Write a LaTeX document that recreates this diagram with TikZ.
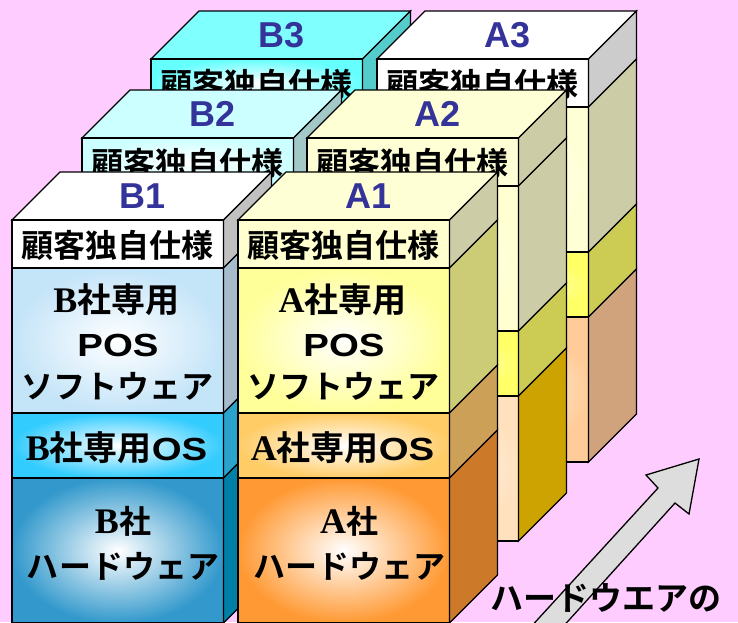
\documentclass[tikz,border=0pt]{standalone}
\usepackage{fontspec}
\newfontfamily\jpb{Noto Sans CJK JP}[UprightFont=* Bold]
\newfontfamily\serifb{Liberation Serif}[UprightFont=* Bold]
\newfontfamily\labf{Liberation Sans}[UprightFont=* Bold]
\newcommand\serifletter[1]{{\serifb\fontsize{36}{36}\selectfont #1}}
\newcommand\wideletters[1]{{\labf\fontsize{32}{32}\selectfont\scalebox{1.2}[1]{#1}}}
\definecolor{bgpink}{HTML}{FFCCFF}
\definecolor{labblue}{HTML}{333399}
\definecolor{cBfb}{HTML}{C4E4F8}
\definecolor{cBfc}{HTML}{33CCFF}
\definecolor{cBfd}{HTML}{3399CC}
\definecolor{cBsa}{HTML}{C0C0C0}
\definecolor{cBsb}{HTML}{A6BCCB}
\definecolor{cBsc}{HTML}{2AA3CC}
\definecolor{cBsd}{HTML}{0080A6}
\definecolor{cBtwo}{HTML}{CCFFFF}
\definecolor{cBtwofb}{HTML}{CCF0FF}
\definecolor{cBtwofc}{HTML}{66DDFF}
\definecolor{cBtwofd}{HTML}{55AADD}
\definecolor{cBtwosa}{HTML}{A3C8C8}
\definecolor{cBthreetop}{HTML}{80FFFF}
\definecolor{cBthreefa}{HTML}{66FFFF}
\definecolor{cBthreefb}{HTML}{AAF0FF}
\definecolor{cBthreesa}{HTML}{55CCCC}
\definecolor{cBthreesb}{HTML}{55BECC}
\definecolor{cAtop}{HTML}{FFFFD5}
\definecolor{cAfa}{HTML}{FFFFD0}
\definecolor{cAfb}{HTML}{FFFF99}
\definecolor{cAfc}{HTML}{FFCC66}
\definecolor{cAfd}{HTML}{FF9933}
\definecolor{cAsa}{HTML}{CCCCA6}
\definecolor{cAsb}{HTML}{CCCC77}
\definecolor{cAsc}{HTML}{CCA056}
\definecolor{cAsd}{HTML}{CC7A2A}
\definecolor{cAtwofb}{HTML}{FFFFD2}
\definecolor{cAtwofc}{HTML}{FFFF66}
\definecolor{cAtwofd}{HTML}{FFE1BE}
\definecolor{cAtwosc}{HTML}{CCCC55}
\definecolor{cAtwosd}{HTML}{CCA300}
\definecolor{cAthreefd}{HTML}{FFCC99}
\definecolor{cAthreesa}{HTML}{CCCCCC}
\definecolor{cAthreesd}{HTML}{D0A37C}
\definecolor{arrowgray}{HTML}{DDDDDD}
\def\W{211.5}
% #1 box name, #2 x, #3 y, #4 extra content
\newcommand\mybox[4]{%
\begin{scope}[shift={(#2,#3)}]
 \draw[edge,#1top] (0,0) -- (48,-48) -- (\W+48,-48) -- (\W,0) -- cycle;
 \draw[edge,#1fa] (0,0) rectangle (\W,48);
 \draw[edge,#1fb] (0,48) rectangle (\W,193);
 \draw[edge,#1fc] (0,193) rectangle (\W,258);
 \draw[edge,#1fd] (0,258) rectangle (\W,403);
 \draw[edge,#1sa] (\W,0) -- (\W+48,-48) -- (\W+48,0) -- (\W,48) -- cycle;
 \draw[edge,#1sb] (\W,48) -- (\W+48,0) -- (\W+48,145) -- (\W,193) -- cycle;
 \draw[edge,#1sc] (\W,193) -- (\W+48,145) -- (\W+48,210) -- (\W,258) -- cycle;
 \draw[edge,#1sd] (\W,258) -- (\W+48,210) -- (\W+48,355) -- (\W,403) -- cycle;
 \node[labtext] (#1lab) at (130.5,-12) {#1};
 \node[jtext] (#1ta) at (105.75,37) {顧客独自仕様};
 #4
\end{scope}}
\tikzset{
 edge/.style={draw=black, line width=1.3pt, line join=miter},
 jtext/.style={font=\jpb\fontsize{32}{32}\selectfont, anchor=base, inner sep=0pt},
 jbig/.style={jtext, font=\jpb\fontsize{34}{34}\selectfont},
 labtext/.style={font=\labf\fontsize{36}{36}\selectfont, text=labblue, anchor=base, inner sep=0pt},
 rad/.style={inner color=white, outer color=#1},
 flat/.style={fill=#1},
 % B1
 B1top/.style={flat=white}, B1fa/.style={flat=white},
 B1fb/.style={rad=cBfb}, B1fc/.style={rad=cBfc}, B1fd/.style={rad=cBfd},
 B1sa/.style={flat=cBsa}, B1sb/.style={flat=cBsb}, B1sc/.style={flat=cBsc}, B1sd/.style={flat=cBsd},
 % B2
 B2top/.style={flat=cBtwo}, B2fa/.style={rad=cBtwo},
 B2fb/.style={rad=cBtwofb}, B2fc/.style={rad=cBtwofc}, B2fd/.style={rad=cBtwofd},
 B2sa/.style={flat=cBtwosa}, B2sb/.style={flat=cBsb}, B2sc/.style={flat=cBsc}, B2sd/.style={flat=cBsd},
 % B3
 B3top/.style={flat=cBthreetop}, B3fa/.style={rad=cBthreefa},
 B3fb/.style={rad=cBthreefb}, B3fc/.style={rad=cBtwofc}, B3fd/.style={rad=cBtwofd},
 B3sa/.style={flat=cBthreesa}, B3sb/.style={flat=cBthreesb}, B3sc/.style={flat=cBsc}, B3sd/.style={flat=cBsd},
 % A1
 A1top/.style={flat=cAtop}, A1fa/.style={flat=cAfa},
 A1fb/.style={rad=cAfb}, A1fc/.style={rad=cAfc}, A1fd/.style={rad=cAfd},
 A1sa/.style={flat=cAsa}, A1sb/.style={flat=cAsb}, A1sc/.style={flat=cAsc}, A1sd/.style={flat=cAsd},
 % A2
 A2top/.style={flat=cAtop}, A2fa/.style={flat=cAtop},
 A2fb/.style={rad=cAtwofb}, A2fc/.style={rad=cAtwofc}, A2fd/.style={rad=cAtwofd},
 A2sa/.style={flat=cAsa}, A2sb/.style={flat=cAsa}, A2sc/.style={flat=cAtwosc}, A2sd/.style={flat=cAtwosd},
 % A3
 A3top/.style={flat=white}, A3fa/.style={flat=white},
 A3fb/.style={rad=cAtop}, A3fc/.style={rad=cAtwofc}, A3fd/.style={rad=cAthreefd},
 A3sa/.style={flat=cAthreesa}, A3sb/.style={flat=cAsa}, A3sc/.style={flat=cAtwosc}, A3sd/.style={flat=cAthreesd},
 bigarrow/.style={draw=black, line width=1.3pt, fill=arrowgray, line join=miter},
 bottomtext/.style={font=\jpb\fontsize{33}{33}\selectfont, anchor=base, inner sep=0pt},
}
\begin{document}
\begin{tikzpicture}[x=1pt,y=-1pt]
 \fill[bgpink] (0,0) rectangle (738,622);
 \useasboundingbox (0,0) rectangle (738,622);
 \begin{scope}
 \clip (0,0) rectangle (738,622);
 \mybox{B3}{151}{59}{}
 \mybox{A3}{377}{59}{}
 \mybox{B2}{82}{138}{}
 \mybox{A2}{307}{138}{}
 \mybox{B1}{12}{220}{%
  \node[jbig] (B1tb1) at (104.5,92) {\serifletter{B}社専用};
  \node[jtext] (B1tb2) at (106,136) {\wideletters{POS}};
  \node[jtext] (B1tb3) at (105,178) {ソフトウェア};
  \node[jbig] (B1tc) at (104.5,240) {\serifletter{B}社専用\wideletters{OS}};
  \node[jtext] (B1td1) at (111,313) {\serifletter{B}社};
  \node[jtext] (B1td2) at (111,358) {ハードウェア};
 }
 \mybox{A1}{238}{220}{%
  \node[jbig] (A1tb1) at (104.5,92) {\serifletter{A}社専用};
  \node[jtext] (A1tb2) at (106,136) {\wideletters{POS}};
  \node[jtext] (A1tb3) at (105,178) {ソフトウェア};
  \node[jbig] (A1tc) at (104.5,240) {\serifletter{A}社専用\wideletters{OS}};
  \node[jtext] (A1td1) at (111,313) {\serifletter{A}社};
  \node[jtext] (A1td2) at (111,358) {ハードウェア};
 }
 \draw[bigarrow] (528,630) -- (658,488) -- (646,475) -- (699,459) -- (689,514) -- (675,503) -- (560,630) -- cycle;
 \end{scope}
 \node[bottomtext] (hwtext) at (606,610) {ハードウエアの};
\end{tikzpicture}
\end{document}
